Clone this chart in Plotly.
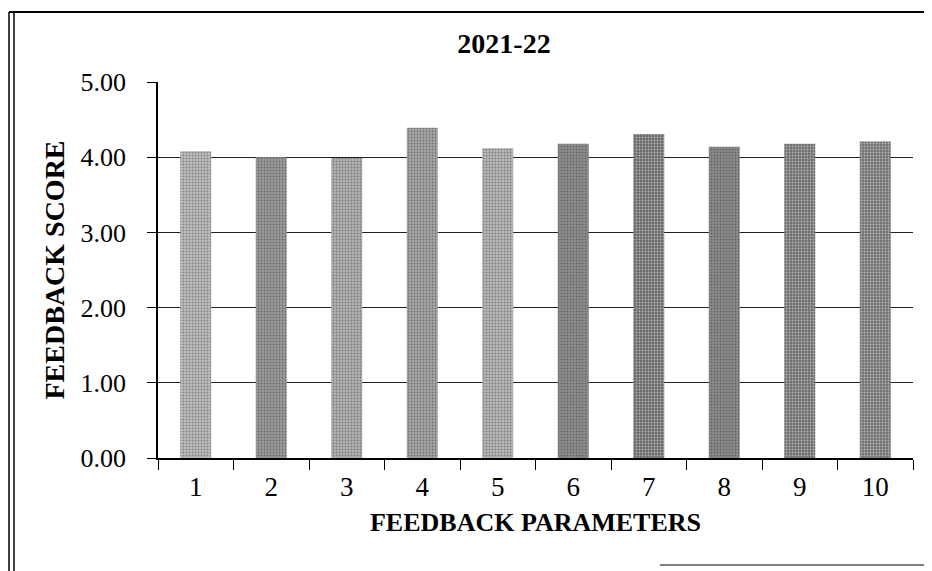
import plotly.graph_objects as go

categories = ["1", "2", "3", "4", "5", "6", "7", "8", "9", "10"]
scores = [4.08, 4.00, 3.99, 4.39, 4.12, 4.18, 4.31, 4.14, 4.18, 4.21]
bar_colors = ["#bdbdbd", "#9a9a9a", "#b2b2b2", "#a6a6a6", "#b8b8b8",
              "#8c8c8c", "#6a6a6a", "#8a8a8a", "#6e6e6e", "#727272"]
y_ticks = [0, 1, 2, 3, 4, 5]

# page is offset by the 8px body margin, so size the figure to fill the window
OFF = 8
W, H = 932 - OFF, 571 - OFF
L, T = 158 - OFF, 82 - OFF
PR, PB = 913 - OFF, 458 - OFF        # plot right / bottom in figure px
R, B = W - PR, H - PB
pw, ph = PR - L, PB - T


def px(xf):   # figure px -> paper x
    return (xf - L) / pw


def py(yf):   # figure px -> paper y
    return (PB - yf) / ph


font = "Liberation Serif, Times New Roman, serif"

fig = go.Figure(go.Bar(
    x=categories, y=scores, width=0.41,
    marker=dict(color=bar_colors, line=dict(width=0),
                pattern=dict(shape=".", fgcolor="#2a2a2a", size=3, solidity=0.3)),
))

fig.update_layout(
    width=W, height=H,
    margin=dict(l=L, r=R, t=T, b=B),
    paper_bgcolor="white", plot_bgcolor="white",
    font=dict(family=font, color="black", size=26),
    title=dict(text="<b>2021-22</b>", x=px(504 - OFF), xref="paper",
               xanchor="center", y=1 - (43 - OFF) / H, yanchor="middle",
               font=dict(size=28, family=font)),
    showlegend=False,
)
fig.update_xaxes(
    type="category", showline=True, linecolor="black", linewidth=1.5,
    ticks="outside", ticklen=10, tickson="boundaries", tickcolor="black",
    tickfont=dict(size=27, family=font), ticklabelstandoff=4,
    title=dict(text="<b>FEEDBACK PARAMETERS</b>",
               font=dict(size=26, family=font), standoff=12),
    showgrid=False,
)
fig.update_yaxes(
    range=[0, 5], tickvals=y_ticks, tickformat=".2f",
    showline=True, linecolor="black", linewidth=1.5,
    ticks="outside", ticklen=9, tickcolor="black",
    showgrid=True, gridcolor="#222222", gridwidth=1,
    tickfont=dict(size=26, family=font), ticklabelstandoff=16,
    title=dict(text="<b>FEEDBACK SCORE</b>",
               font=dict(size=28, family=font), standoff=8),
)

# outer chart frame (scanned page border)
line = dict(color="black", width=1.5)
for xf in (9 - OFF, 14 - OFF):
    fig.add_shape(type="line", xref="paper", yref="paper",
                  x0=px(xf), x1=px(xf), y0=py(12 - OFF), y1=py(571 - OFF),
                  line=line)
fig.add_shape(type="line", xref="paper", yref="paper",
              x0=px(9 - OFF), x1=px(932 - OFF), y0=py(12 - OFF), y1=py(12 - OFF),
              line=dict(color="black", width=2))
fig.add_shape(type="line", xref="paper", yref="paper",
              x0=px(660 - OFF), x1=px(932 - OFF), y0=py(565 - OFF), y1=py(565 - OFF),
              line=dict(color="black", width=1))

fig.write_html("out.html")
